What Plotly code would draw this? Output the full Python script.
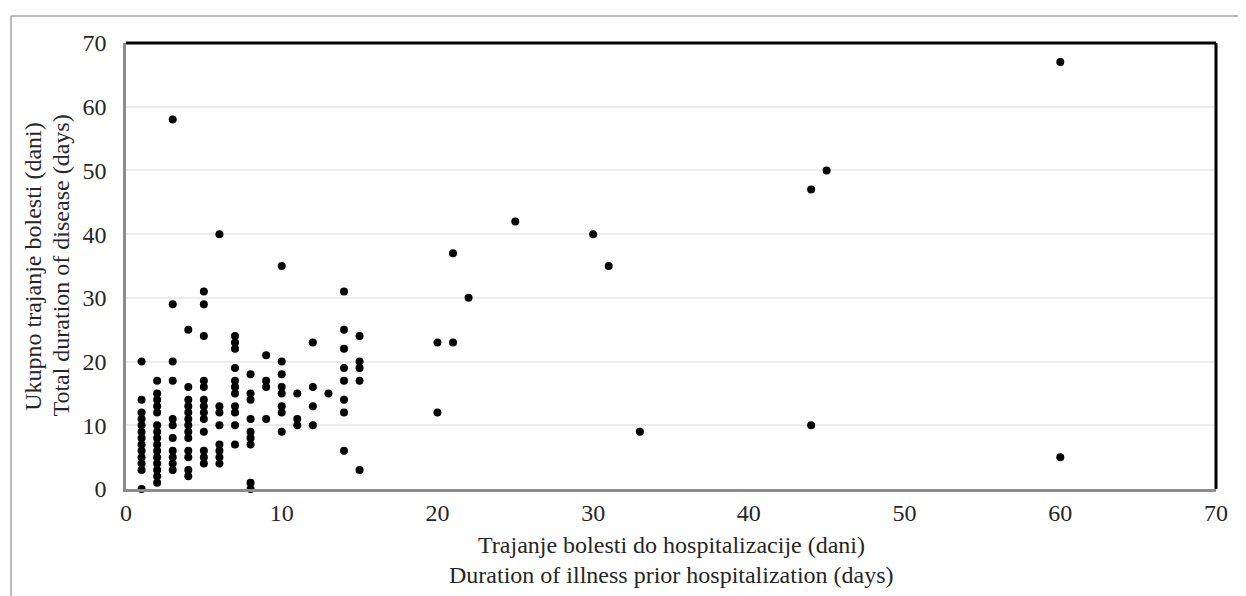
import plotly.graph_objects as go

# Duration of illness prior hospitalization (days)
x_days = (
    [1]*13 + [2]*15 + [3]*11 + [4]*13 + [5]*13 + [6]*8 + [7]*11 + [8]*9 +
    [9]*4 + [10]*8 + [11]*3 + [12]*4 + [13]*1 + [14]*8 + [15]*5 +
    [20, 20, 21, 21, 22, 25, 30, 31, 33, 44, 44, 45, 60, 60]
)
# Total duration of disease (days)
y_days = (
    [20, 14, 12, 11, 10, 9, 8, 7, 6, 5, 4, 3, 0] +
    [17, 15, 14, 13, 12, 10, 9, 8, 7, 6, 5, 4, 3, 2, 1] +
    [58, 29, 20, 17, 11, 10, 8, 6, 5, 4, 3] +
    [25, 16, 14, 13, 12, 11, 10, 9, 8, 6, 5, 3, 2] +
    [31, 29, 24, 17, 16, 14, 13, 12, 11, 9, 6, 5, 4] +
    [40, 13, 12, 10, 7, 6, 5, 4] +
    [24, 23, 22, 19, 17, 16, 15, 13, 12, 10, 7] +
    [18, 15, 14, 11, 9, 8, 7, 1, 0] +
    [21, 17, 16, 11] +
    [35, 20, 18, 16, 15, 13, 12, 9] +
    [15, 11, 10] +
    [23, 16, 13, 10] +
    [15] +
    [31, 25, 22, 19, 17, 14, 12, 6] +
    [24, 20, 19, 17, 3] +
    [23, 12, 37, 23, 30, 42, 40, 35, 9, 47, 10, 50, 67, 5]
)

x_ticks = [0, 10, 20, 30, 40, 50, 60, 70]
y_ticks = [0, 10, 20, 30, 40, 50, 60, 70]

x_title_lines = ["Trajanje bolesti do hospitalizacije (dani)",
                 "Duration of illness prior hospitalization (days)"]
y_title_lines = ["Ukupno trajanje bolesti (dani)",
                 "Total duration of disease (days)"]

FONT = "Liberation Serif, Times New Roman, serif"
TXT = "#262626"
FS = 24

fig = go.Figure()
fig.add_trace(go.Scatter(
    x=x_days, y=y_days, mode="markers",
    marker=dict(color="black", size=8, line=dict(width=0)),
    showlegend=False, cliponaxis=False,
))

annotations = [
    dict(text=x_title_lines[0], xref="paper", yref="paper", x=0.5, y=-0.1256,
         xanchor="center", yanchor="middle", showarrow=False),
    dict(text=x_title_lines[1], xref="paper", yref="paper", x=0.5, y=-0.1928,
         xanchor="center", yanchor="middle", showarrow=False),
    dict(text=y_title_lines[0], xref="paper", yref="paper", x=-0.0855, y=0.5,
         xanchor="center", yanchor="middle", showarrow=False, textangle=-90),
    dict(text=y_title_lines[1], xref="paper", yref="paper", x=-0.0600, y=0.5,
         xanchor="center", yanchor="middle", showarrow=False, textangle=-90),
]
for a in annotations:
    a["font"] = dict(family=FONT, size=FS, color=TXT)

fig.update_layout(
    width=1238, height=588,
    margin=dict(l=118, r=30, t=35, b=107),
    paper_bgcolor="white", plot_bgcolor="white",
    font=dict(family=FONT, size=FS, color=TXT),
    xaxis=dict(
        range=[0, 70], tickvals=x_ticks, showgrid=False, zeroline=False,
        showline=True, linecolor="#8c8c8c", linewidth=2.5,
        ticks="outside", ticklen=0, tickcolor="rgba(0,0,0,0)",
        tickfont=dict(size=FS, family=FONT, color=TXT),
    ),
    yaxis=dict(
        range=[0, 70], tickvals=y_ticks, showgrid=True, gridcolor="#ececec", gridwidth=2,
        zeroline=False, showline=True, linecolor="#8c8c8c", linewidth=2.5,
        ticks="outside", ticklen=12, tickcolor="rgba(0,0,0,0)",
        tickfont=dict(size=FS, family=FONT, color=TXT),
    ),
    annotations=annotations,
    shapes=[
        dict(type="line", xref="paper", yref="paper", x0=0, x1=1, y0=1, y1=1,
             line=dict(color="black", width=3)),
        dict(type="line", xref="paper", yref="paper", x0=1, x1=1, y0=0, y1=1,
             line=dict(color="black", width=3)),
        dict(type="line", xref="paper", yref="paper", x0=-0.1055, x1=1.04, y0=1.0605, y1=1.0605,
             line=dict(color="#a6a6a6", width=1.5)),
        dict(type="line", xref="paper", yref="paper", x0=-0.1055, x1=-0.1055, y0=1.0605, y1=-0.26,
             line=dict(color="#a6a6a6", width=1.5)),
    ],
)

fig.write_html("out.html")
